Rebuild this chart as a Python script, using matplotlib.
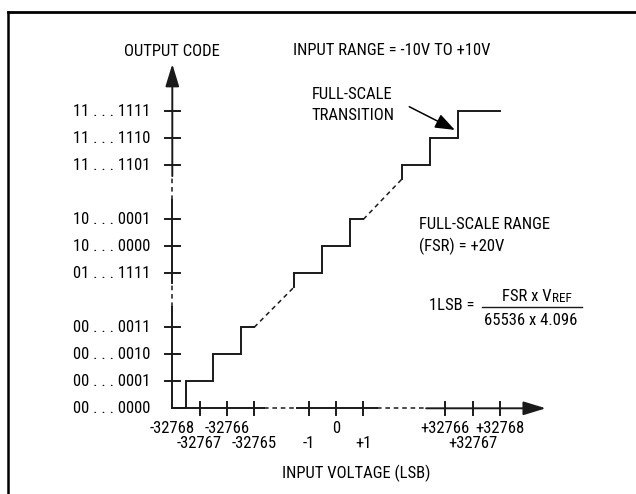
import matplotlib
matplotlib.use("Agg")
import matplotlib.pyplot as plt
from matplotlib.patches import FancyArrowPatch
from matplotlib.lines import Line2D

FONT = ['Roboto Condensed', 'IBM Plex Sans Condensed', 'PT Sans Narrow', 'DejaVu Sans']
plt.rcParams['font.family'] = FONT

# ---- data ----
y_codes = ["00 . . . 0000", "00 . . . 0001", "00 . . . 0010", "00 . . . 0011",
           "01 . . . 1111", "10 . . . 0000", "10 . . . 0001",
           "11 . . . 1101", "11 . . . 1110", "11 . . . 1111"]
y_code_pos = [0, 1, 2, 3, 5, 6, 7, 9, 10, 11]

x_labels = ["-32768", "-32767", "-32766", "-32765", "-1", "0", "+1",
            "+32766", "+32767", "+32768"]
x_label_pos = [0, 1, 2, 3, 5, 6, 7, 10, 11, 12]
x_label_row = [0, 1, 0, 1, 1, 0, 1, 0, 1, 0]

# staircase segments (transition positions, codes)
low_x = [0, 0.5, 1.5, 2.5, 3.0]
low_y = [0, 1, 2, 3, 3]
mid_x = [4.47, 4.47, 5.5, 6.5, 7.0]
mid_y = [4.5, 5, 6, 7, 7]
high_x = [8.42, 8.42, 9.45, 10.45, 12.0]
high_y = [8.5, 9, 10, 11, 11]
dash1_x = [3.0, 4.47]
dash1_y = [3, 4.5]
dash2_x = [7.0, 8.42]
dash2_y = [7, 8.5]

# ---- figure ----
W, H = 636, 494
fig = plt.figure(figsize=(W / 100, H / 100), dpi=100)
ax = fig.add_axes([0, 0, 1, 1])
X0, UX = 172.3, 27.3
Y0, UY = 408.3, 27.0
ax.set_xlim(-X0 / UX, (W - X0) / UX)
ax.set_ylim(-(H - Y0) / UY, Y0 / UY)
ax.axis('off')

LC = '#1a1a1a'
LW = 1.4
FS = 12

# frame (top and left edges)
fig.add_artist(Line2D([8 / W, 8 / W], [0, 1 - 12 / H], color='k', lw=1.8, transform=fig.transFigure))
fig.add_artist(Line2D([8 / W, 1], [1 - 12 / H, 1 - 12 / H], color='k', lw=2.0, transform=fig.transFigure))

# staircase
ax.step(low_x, low_y, where='post', color=LC, lw=LW, solid_joinstyle='miter')
ax.step(mid_x, mid_y, where='post', color=LC, lw=LW, solid_joinstyle='miter')
ax.step(high_x, high_y, where='post', color=LC, lw=LW, solid_joinstyle='miter')
ax.plot(dash1_x, dash1_y, color=LC, lw=1.1, dashes=(3, 2.5))
ax.plot(dash2_x, dash2_y, color=LC, lw=1.1, dashes=(3, 2.5))

# y axis: solid / dashed segments
ax.plot([0, 0], [0, 3.75], color=LC, lw=LW)
ax.plot([0, 0], [3.75, 4.64], color=LC, lw=1.1, dashes=(3, 2.5))
ax.plot([0, 0], [4.64, 7.7], color=LC, lw=LW)
ax.plot([0, 0], [7.7, 8.6], color=LC, lw=1.1, dashes=(3, 2.5))
ax.add_patch(FancyArrowPatch((0, 8.6), (0, 12.75), arrowstyle='-|>,head_length=1.37,head_width=0.42',
                             mutation_scale=10, color=LC, lw=LW, shrinkA=0, shrinkB=0))
# x axis
ax.plot([0, 3.35], [0, 0], color=LC, lw=LW)
ax.plot([3.35, 4.55], [0, 0], color=LC, lw=1.1, dashes=(3, 2.5))
ax.plot([4.55, 7.5], [0, 0], color=LC, lw=LW)
ax.plot([7.5, 9.3], [0, 0], color=LC, lw=1.1, dashes=(3, 2.5))
ax.add_patch(FancyArrowPatch((9.3, 0), (13.68, 0), arrowstyle='-|>,head_length=1.37,head_width=0.42',
                             mutation_scale=10, color=LC, lw=LW, shrinkA=0, shrinkB=0))

# y ticks and labels
for p, lab in zip(y_code_pos, y_codes):
    if p > 0:
        ax.plot([-0.27, 0.27], [p, p], color=LC, lw=LW)
    ax.text(-0.82, p, lab, ha='right', va='center', fontsize=FS)

# x ticks and labels
for p, lab, r in zip(x_label_pos, x_labels, x_label_row):
    if p > 0:
        ax.plot([p, p], [-0.24, 0.24], color=LC, lw=LW)
    ax.text(p, -0.74 if r == 0 else -1.30, lab, ha='center', va='center', fontsize=FS,
            linespacing=1.0)

# annotations
ax.text(-0.02, 13.21, "OUTPUT CODE", ha='center', va='center', fontsize=FS)
ax.text(4.43, 13.27, "INPUT RANGE = -10V TO +10V", ha='left', va='center', fontsize=FS)
ax.text(5.11, 11.63, "FULL-SCALE", ha='left', va='center', fontsize=FS)
ax.text(5.11, 10.86, "TRANSITION", ha='left', va='center', fontsize=FS)
ax.add_patch(FancyArrowPatch((8.68, 11.17), (10.35, 10.31),
                             arrowstyle='-|>,head_length=1.2,head_width=0.45',
                             mutation_scale=10, color='k', lw=1.1, shrinkA=0, shrinkB=0))
ax.text(9.05, 6.79, "FULL-SCALE RANGE", ha='left', va='center', fontsize=FS)
ax.text(9.05, 5.99, "(FSR) = +20V", ha='left', va='center', fontsize=FS)
ax.text(9.41, 3.81, "1LSB =", ha='left', va='center', fontsize=FS)
ax.plot([11.33, 15.0], [3.76, 3.76], color=LC, lw=1.0)
ax.text(13.9, 4.13, "FSR x V", ha='right', va='center', fontsize=FS)
ax.text(13.9, 4.05, "REF", ha='left', va='center', fontsize=9.5)
ax.text(13.14, 3.27, "65536 x 4.096", ha='center', va='center', fontsize=FS)
ax.text(6.75, -2.41, "INPUT VOLTAGE (LSB)", ha='center', va='center', fontsize=FS)

fig.savefig("out.png", dpi=100)
